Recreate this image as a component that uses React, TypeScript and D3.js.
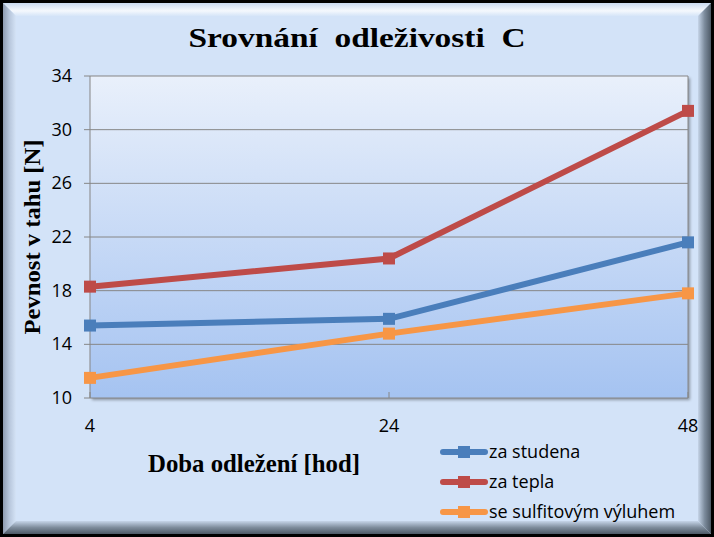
import React from "react";
import * as d3 from "d3";

const categories = ["4", "24", "48"];
const seriesNames = ["za studena", "za tepla", "se sulfitovým výluhem"];
const zaStudena = [15.4, 15.9, 21.6];
const zaTepla = [18.3, 20.4, 31.4];
const seSulfitovym = [11.5, 14.8, 17.8];
const yTicks = [10, 14, 18, 22, 26, 30, 34];
const colors = ["#4a7ebb", "#be4b48", "#f79646"];

const W = 714;
const H = 537;

const App = () => {
  const plot = { left: 90, right: 688, top: 76, bottom: 398 };
  const x = d3.scalePoint<string>().domain(categories).range([plot.left, plot.right]);
  const y = d3.scaleLinear().domain([10, 34]).range([plot.bottom, plot.top]);
  const line = d3
    .line<number>()
    .x((_, i) => x(categories[i]) as number)
    .y((d) => y(d));

  const all = [zaStudena, zaTepla, seSulfitovym];
  const bev = 13;
  const o = 3;

  return (
    <div>
      <style>{"body{margin:0}"}</style>
      <svg width={W} height={H} style={{ display: "block" }}>
        <defs>
          <linearGradient id="plotBg" x1="0" y1="0" x2="0" y2="1">
            <stop offset="0" stopColor="#e9f0fb" />
            <stop offset="1" stopColor="#a5c3f1" />
          </linearGradient>
          <linearGradient id="bTop" x1="0" y1="0" x2="0" y2="1">
            <stop offset="0" stopColor="#c9daf0" />
            <stop offset="0.6" stopColor="#f4f8fd" />
            <stop offset="1" stopColor="#d6e5f8" />
          </linearGradient>
          <linearGradient id="bLeft" x1="0" y1="0" x2="1" y2="0">
            <stop offset="0" stopColor="#8e9bb0" />
            <stop offset="0.5" stopColor="#b8c7dc" />
            <stop offset="1" stopColor="#d4e3f6" />
          </linearGradient>
          <linearGradient id="bRight" x1="1" y1="0" x2="0" y2="0">
            <stop offset="0" stopColor="#4d5966" />
            <stop offset="0.5" stopColor="#7d8c9d" />
            <stop offset="1" stopColor="#c6d5e9" />
          </linearGradient>
          <linearGradient id="bBottom" x1="0" y1="1" x2="0" y2="0">
            <stop offset="0" stopColor="#4d5966" />
            <stop offset="0.5" stopColor="#7e8c9c" />
            <stop offset="1" stopColor="#c6d5e9" />
          </linearGradient>
          <filter id="shadow" x="-5%" y="-5%" width="110%" height="110%">
            <feDropShadow dx="2" dy="2" stdDeviation="1.5" floodColor="#000" floodOpacity="0.35" />
          </filter>
        </defs>

        <rect x={0} y={0} width={W} height={H} fill="#000" />
        <rect x={o} y={o} width={W - 2 * o} height={H - 2 * o} fill="#d3e3f8" />
        <polygon
          points={`${o},${o} ${W - o},${o} ${W - o - bev},${o + bev} ${o + bev},${o + bev}`}
          fill="url(#bTop)"
        />
        <polygon
          points={`${o},${o} ${o + bev},${o + bev} ${o + bev},${H - o - bev} ${o},${H - o}`}
          fill="url(#bLeft)"
        />
        <polygon
          points={`${W - o},${o} ${W - o},${H - o} ${W - o - bev},${H - o - bev} ${W - o - bev},${o + bev}`}
          fill="url(#bRight)"
        />
        <polygon
          points={`${o},${H - o} ${W - o},${H - o} ${W - o - bev},${H - o - bev} ${o + bev},${H - o - bev}`}
          fill="url(#bBottom)"
        />

        <text
          x={357}
          y={47}
          textAnchor="middle"
          fontFamily="Liberation Serif"
          fontWeight="bold"
          fontSize={28}
          textLength={337}
          lengthAdjust="spacingAndGlyphs"
          fill="#000"
        >
          {"Srovnání\u00a0 odleživosti\u00a0 C"}
        </text>

        <rect
          x={plot.left}
          y={plot.top}
          width={plot.right - plot.left}
          height={plot.bottom - plot.top}
          fill="url(#plotBg)"
          filter="url(#shadow)"
        />

        {yTicks.map((t) => (
          <g key={t}>
            <line
              x1={plot.left - 6}
              x2={plot.right}
              y1={y(t)}
              y2={y(t)}
              stroke="#868686"
              strokeWidth={1}
            />
            <text
              x={72}
              y={y(t) + 6}
              textAnchor="end"
              fontFamily="Open Sans"
              fontSize={18}
              fill="#000"
            >
              {t}
            </text>
          </g>
        ))}
        <line x1={plot.left} x2={plot.left} y1={plot.top} y2={plot.bottom} stroke="#868686" />
        <line x1={plot.right} x2={plot.right} y1={plot.top} y2={plot.bottom} stroke="#868686" />
        {categories.map((c) => (
          <g key={c}>
            <line
              x1={x(c) as number}
              x2={x(c) as number}
              y1={plot.bottom}
              y2={plot.bottom - 6}
              stroke="#868686"
            />
            <text
              x={x(c) as number}
              y={432}
              textAnchor="middle"
              fontFamily="Open Sans"
              fontSize={18}
              fill="#000"
            >
              {c}
            </text>
          </g>
        ))}

        {all.map((s, i) => (
          <g key={i}>
            <path d={line(s) || ""} fill="none" stroke={colors[i]} strokeWidth={6} />
            {s.map((v, j) => (
              <rect
                key={j}
                x={(x(categories[j]) as number) - 6}
                y={y(v) - 6}
                width={12}
                height={12}
                fill={colors[i]}
              />
            ))}
          </g>
        ))}

        <text
          transform={`translate(40,${237}) rotate(-90)`}
          textAnchor="middle"
          fontFamily="Liberation Serif"
          fontWeight="bold"
          fontSize={24}
          textLength={195}
          lengthAdjust="spacingAndGlyphs"
          fill="#000"
        >
          Pevnost v tahu [N]
        </text>

        <text
          x={254}
          y={472}
          textAnchor="middle"
          fontFamily="Liberation Serif"
          fontWeight="bold"
          fontSize={25}
          textLength={212}
          lengthAdjust="spacingAndGlyphs"
          fill="#000"
        >
          Doba odležení [hod]
        </text>

        {seriesNames.map((n, i) => {
          const ly = 452 + i * 30;
          return (
            <g key={n}>
              <line x1={443} x2={485} y1={ly} y2={ly} stroke={colors[i]} strokeWidth={6} strokeLinecap="round" />
              <rect x={458} y={ly - 6} width={12} height={12} fill={colors[i]} />
              <text x={489} y={ly + 6} fontFamily="Open Sans" fontSize={18} fill="#000">
                {n}
              </text>
            </g>
          );
        })}
      </svg>
    </div>
  );
};

export default App;
